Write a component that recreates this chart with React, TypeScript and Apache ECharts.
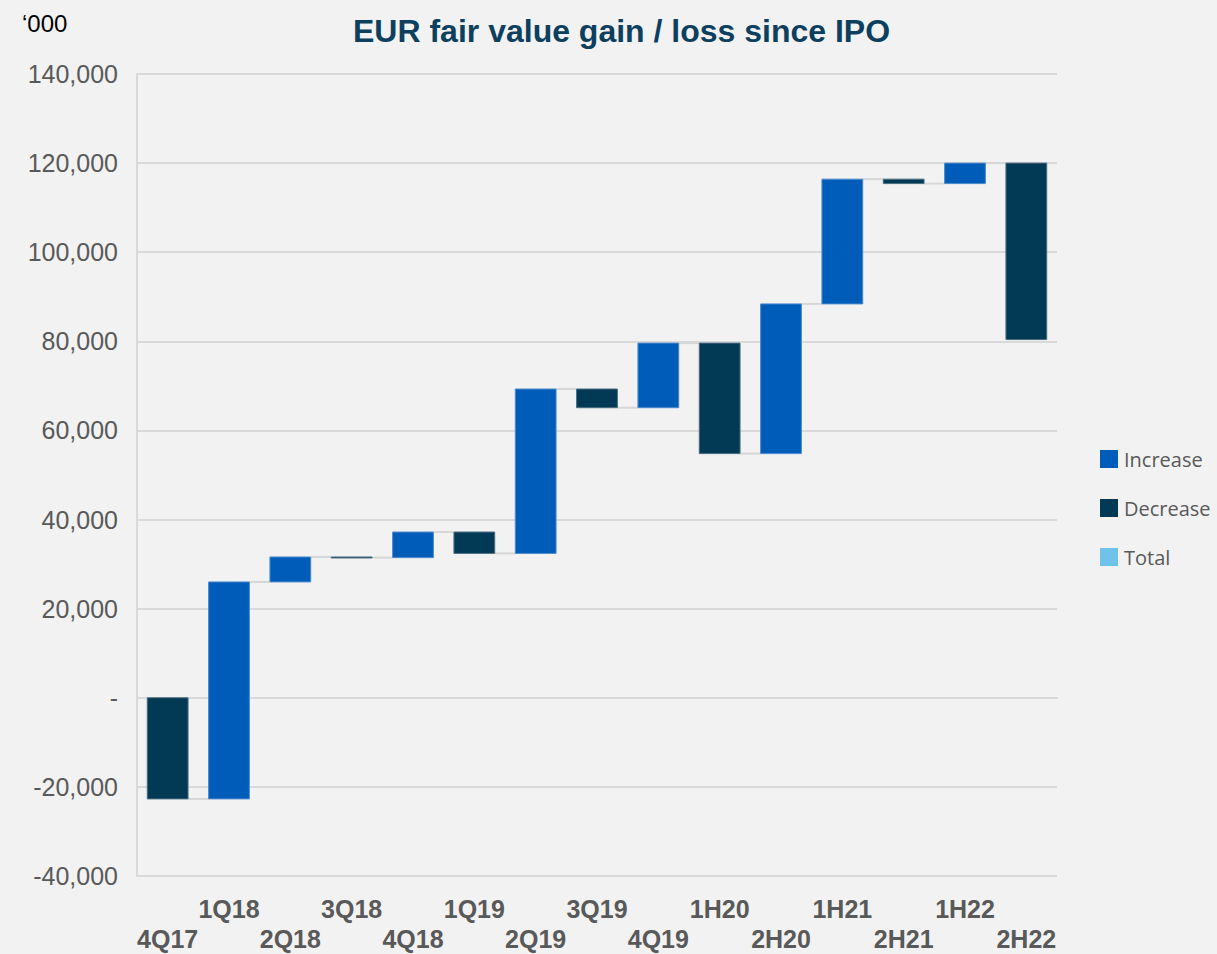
import React, { useEffect, useRef } from "react";
import * as echarts from "echarts";

const categories = ["4Q17", "1Q18", "2Q18", "3Q18", "4Q18", "1Q19", "2Q19", "3Q19", "4Q19", "1H20", "2H20", "1H21", "2H21", "1H22", "2H22"];
// change per period (EUR '000)
const deltas = [-22700, 48700, 5600, -150, 5750, -4800, 36900, -4200, 14500, -24800, 33600, 28000, -1000, 4600, -39600];
const yTicks = { min: -40000, max: 140000, interval: 20000 };
const legendNames = ["Increase", "Decrease", "Total"];

const COLOR_INC = "#005cb9";
const COLOR_DEC = "#023a56";
const COLOR_TOT = "#6fc3e8";

export default function App() {
  const ref = useRef<HTMLDivElement>(null);
  useEffect(() => {
    if (!ref.current) return;
    const chart = echarts.init(ref.current, null, { renderer: "svg" });

    const starts: number[] = [];
    const ends: number[] = [];
    let run = 0;
    deltas.forEach((d) => {
      starts.push(run);
      run += d;
      ends.push(run);
    });
    const incData: any[] = [];
    const decData: any[] = [];
    deltas.forEach((d, i) => {
      if (d >= 0) incData.push([i, starts[i], ends[i]]);
      else decData.push([i, starts[i], ends[i]]);
    });
    const connData = ends.slice(0, -1).map((v, i) => [i, v]);

    const barRender = (fill: string, stroke: string) => (params: any, api: any) => {
      const i = api.value(0);
      const p1 = api.coord([i, api.value(1)]);
      const p2 = api.coord([i, api.value(2)]);
      const bw = api.size([1, 0])[0] * 0.665;
      const h = Math.max(Math.abs(p1[1] - p2[1]), 1);
      return {
        type: "rect",
        shape: { x: p1[0] - bw / 2, y: Math.min(p1[1], p2[1]), width: bw, height: h },
        style: { fill, stroke, lineWidth: 1 },
      };
    };

    const connRender = (params: any, api: any) => {
      const i = api.value(0);
      const v = api.value(1);
      const a = api.coord([i, v]);
      const b = api.coord([i + 1, v]);
      const bw = api.size([1, 0])[0] * 0.665;
      return {
        type: "line",
        shape: { x1: a[0] + bw / 2, y1: a[1], x2: b[0] - bw / 2, y2: b[1] },
        style: { stroke: "#d6d6d6", lineWidth: 2 },
      };
    };

    chart.setOption({
      animation: false,
      backgroundColor: "#f2f2f2",
      title: {
        text: "EUR fair value gain / loss since IPO",
        left: 348,
        top: 10,
        textStyle: { fontFamily: "Liberation Sans, Arial", fontWeight: "bold", fontSize: 32, color: "#0d3f5f" },
      },
      graphic: [
        {
          type: "text",
          left: 22,
          top: 11,
          style: { text: "\u2018000", fontFamily: "Liberation Sans, Arial", fontSize: 24, fill: "#000" },
        },
      ],
      legend: {
        data: legendNames.map((n) => ({ name: n, icon: "rect" })),
        orient: "vertical",
        left: 1095,
        top: 444,
        itemWidth: 18,
        itemHeight: 18,
        itemGap: 29,
        textStyle: { fontFamily: "Open Sans", fontSize: 20, color: "#595959", padding: [0, 0, 0, 1] },
      },
      grid: { left: 137, right: 160, top: 74, bottom: 77 },
      xAxis: {
        type: "category",
        data: categories,
        axisLine: { show: true, lineStyle: { color: "#d9d9d9", width: 2 } },
        axisTick: { show: false },
        axisLabel: {
          interval: 0,
          margin: 18,
          fontFamily: "Liberation Sans, Arial",
          fontWeight: "bold",
          fontSize: 25,
          lineHeight: 30,
          color: "#595959",
          formatter: (v: string, idx: number) => (idx % 2 === 1 ? v : "\n" + v),
        },
      },
      yAxis: {
        type: "value",
        min: yTicks.min,
        max: yTicks.max,
        interval: yTicks.interval,
        axisLine: { show: true, lineStyle: { color: "#d9d9d9", width: 2 } },
        axisTick: { show: false },
        splitLine: { lineStyle: { color: "#d9d9d9", width: 2 } },
        axisLabel: {
          margin: 19,
          fontFamily: "Liberation Sans, Arial",
          fontSize: 25,
          color: "#595959",
          formatter: (v: number) => (v === 0 ? "-" : v.toLocaleString("en-US")),
        },
      },
      series: [
        {
          name: "connectors",
          type: "custom",
          renderItem: connRender,
          data: connData,
          encode: { x: 0, y: 1 },
          z: 1,
          silent: true,
        },
        {
          name: "Increase",
          type: "custom",
          renderItem: barRender(COLOR_INC, "#4d8acb"),
          itemStyle: { color: COLOR_INC },
          data: incData,
          encode: { x: 0, y: [1, 2] },
          z: 2,
        },
        {
          name: "Decrease",
          type: "custom",
          renderItem: barRender(COLOR_DEC, "#4b6d80"),
          itemStyle: { color: COLOR_DEC },
          data: decData,
          encode: { x: 0, y: [1, 2] },
          z: 2,
        },
        {
          name: "Total",
          type: "custom",
          renderItem: barRender(COLOR_TOT, COLOR_TOT),
          itemStyle: { color: COLOR_TOT },
          data: [],
          encode: { x: 0, y: [1, 2] },
          z: 2,
        },
      ],
    });
    return () => chart.dispose();
  }, []);
  return <div ref={ref} style={{ position: "absolute", left: 0, top: 0, width: 1217, height: 954 }} />;
}
